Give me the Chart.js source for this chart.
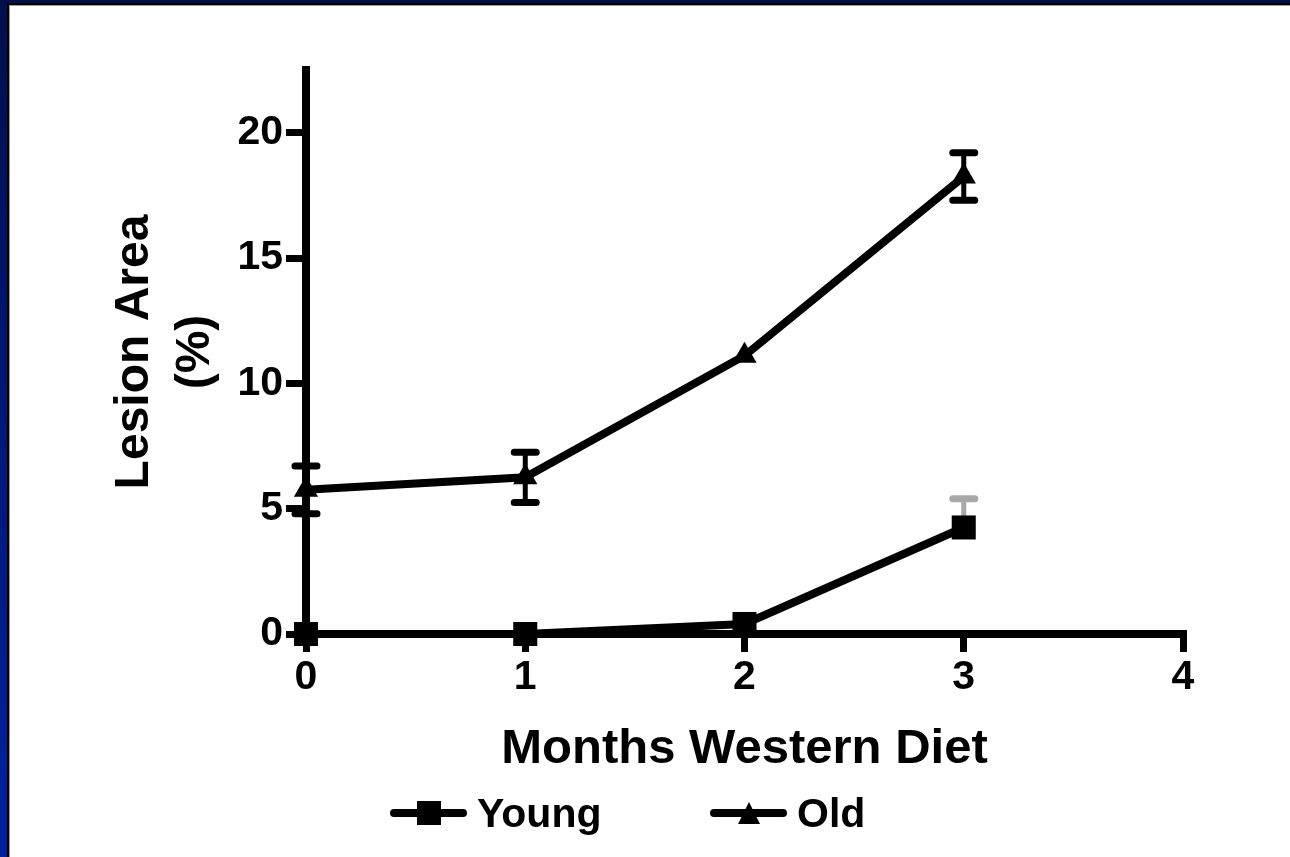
<!DOCTYPE html>
<html>
<head>
<meta charset="utf-8">
<script src="https://cdn.jsdelivr.net/npm/chart.js@4.4.0/dist/chart.umd.min.js"></script>
<style>
  html, body { margin: 0; padding: 0; }
  body {
    width: 1290px; height: 857px; overflow: hidden; position: relative;
    background: linear-gradient(to bottom, #000f4c 0%, #001a80 60%, #0022a0 100%);
    font-family: 'Liberation Sans', Arial, sans-serif;
  }
  .panel {
    position: absolute; left: 7px; top: 3px; right: 0; bottom: 0;
    background: #fff; border-left: 2px solid #000; border-top: 2px solid #000;
    box-shadow: inset 1px 1px 0 #9a9a9a;
  }
  .wrap { position: absolute; left: 0; top: 0; width: 1290px; height: 857px; }
  .lg { position: absolute; top: 793px; height: 41px; }
  .lg .ln { position: absolute; top: 16px; height: 8px; background: #000; border-radius: 4px; }
  .lg .sq { position: absolute; top: 8px; width: 24px; height: 24px; background: #000; }
  .lg .tri { position: absolute; top: 9px; width: 0; height: 0;
    border-left: 11px solid transparent; border-right: 11px solid transparent; border-bottom: 22px solid #000; }
  .lg .tx { position: absolute; font-weight: bold; font-size: 41px; line-height: 41px; color: #000; white-space: nowrap; }
</style>
</head>
<body>
<div class="panel"></div>
<div class="wrap"><canvas id="lesion"></canvas></div>
<div id="legend"></div>
<script>
'use strict'

const months = [0, 1, 2, 3]
const xTicks = [0, 1, 2, 3, 4]
const yTicks = [0, 5, 10, 15, 20]
const seriesNames = ['Young', 'Old']
const young = [0, 0, 0.4, 4.25]
const youngErr = [0, 0, 0, 1.15]
const old = [5.75, 6.25, 11.1, 18.25]
const oldErr = [0.95, 1.0, 0, 0.95]

const FONT = "'Liberation Sans', Arial, sans-serif"

// error bars, drawn under the markers
const errorBars = {
  id: 'errorBars',
  beforeDatasetsDraw(chart) {
    const { ctx, scales: { x, y } } = chart
    chart.data.datasets.forEach((ds, i) => {
      if (!chart.isDatasetVisible(i) || !ds.errors) return
      ctx.save()
      ctx.strokeStyle = ds.errorColor
      ds.data.forEach((pt, j) => {
        const e = ds.errors[j]
        if (!e) return
        const px = x.getPixelForValue(pt.x)
        const top = y.getPixelForValue(pt.y + e)
        const bot = y.getPixelForValue(ds.upperOnly ? pt.y : pt.y - e)
        ctx.lineCap = 'butt'
        ctx.lineWidth = 5
        ctx.beginPath()
        ctx.moveTo(px, top)
        ctx.lineTo(px, bot)
        ctx.stroke()
        ctx.lineCap = 'round'
        ctx.lineWidth = 7
        ctx.beginPath()
        ctx.moveTo(px - 11, top)
        ctx.lineTo(px + 11, top)
        if (!ds.upperOnly) {
          ctx.moveTo(px - 11, bot)
          ctx.lineTo(px + 11, bot)
        }
        ctx.stroke()
      })
      ctx.restore()
    })
  }
}

const gridOpts = (len) => ({
  drawOnChartArea: false,
  drawTicks: true,
  tickLength: len,
  color: '#000',
  lineWidth: 7
})

const tickFont = { family: FONT, size: 41, weight: 'bold' }

new Chart(document.getElementById('lesion'), {
  type: 'line',
  data: {
    datasets: [
      {
        label: seriesNames[0],
        data: months.map((m, i) => ({ x: m, y: young[i] })),
        errors: youngErr,
        errorColor: '#a8a8a8',
        upperOnly: true,
        borderColor: '#000',
        borderWidth: 8,
        pointStyle: 'rect',
        pointRadius: 17,
        pointBackgroundColor: '#000',
        pointBorderWidth: 0,
        clip: false
      },
      {
        label: seriesNames[1],
        data: months.map((m, i) => ({ x: m, y: old[i] })),
        errors: oldErr,
        errorColor: '#000',
        borderColor: '#000',
        borderWidth: 8,
        pointStyle: 'triangle',
        pointRadius: 14,
        pointBackgroundColor: '#000',
        pointBorderWidth: 0,
        clip: false
      }
    ]
  },
  options: {
    responsive: true,
    maintainAspectRatio: false,
    animation: false,
    layout: { padding: { top: 70, right: 107, left: 0, bottom: 0 } },
    scales: {
      x: {
        type: 'linear',
        min: 0,
        max: 4,
        afterBuildTicks: (s) => { s.ticks = xTicks.map((v) => ({ value: v })) },
        afterFit: (s) => { s.height = 223 },
        ticks: { color: '#000', font: tickFont, padding: 1 },
        grid: gridOpts(18),
        border: { color: '#000', width: 8 },
        title: {
          display: true,
          text: 'Months Western Diet',
          color: '#000',
          font: { family: FONT, size: 49, weight: 'bold', lineHeight: 1.2 },
          padding: { top: 0, bottom: 78 }
        }
      },
      y: {
        min: 0,
        max: 22.5,
        afterBuildTicks: (s) => { s.ticks = yTicks.map((v) => ({ value: v })) },
        afterFit: (s) => { s.width = 306 },
        ticks: { color: '#000', font: tickFont, padding: 3 },
        grid: gridOpts(20),
        border: { color: '#000', width: 8 },
        title: {
          display: true,
          text: ['Lesion Area', '(%)'],
          color: '#000',
          font: { family: FONT, size: 48, weight: 'bold', lineHeight: 1.28 },
          padding: { top: 104, bottom: 0 }
        }
      }
    },
    plugins: {
      legend: { display: false },
      tooltip: { enabled: false }
    }
  },
  plugins: [errorBars]
})

// legend built from the series names
const legendPos = [
  { left: 390, marker: 'sq' },
  { left: 710, marker: 'tri' }
]
const legendEl = document.getElementById('legend')
seriesNames.forEach((name, i) => {
  const p = legendPos[i]
  const item = document.createElement('div')
  item.className = 'lg'
  item.style.left = p.left + 'px'
  const mk = p.marker === 'sq'
    ? '<div class="sq" style="left:27px"></div>'
    : '<div class="tri" style="left:28px"></div>'
  item.innerHTML = '<div class="ln" style="left:0;width:77px"></div>' + mk +
    '<div class="tx" style="left:87px">' + name + '</div>'
  legendEl.appendChild(item)
})
</script>
</body>
</html>
